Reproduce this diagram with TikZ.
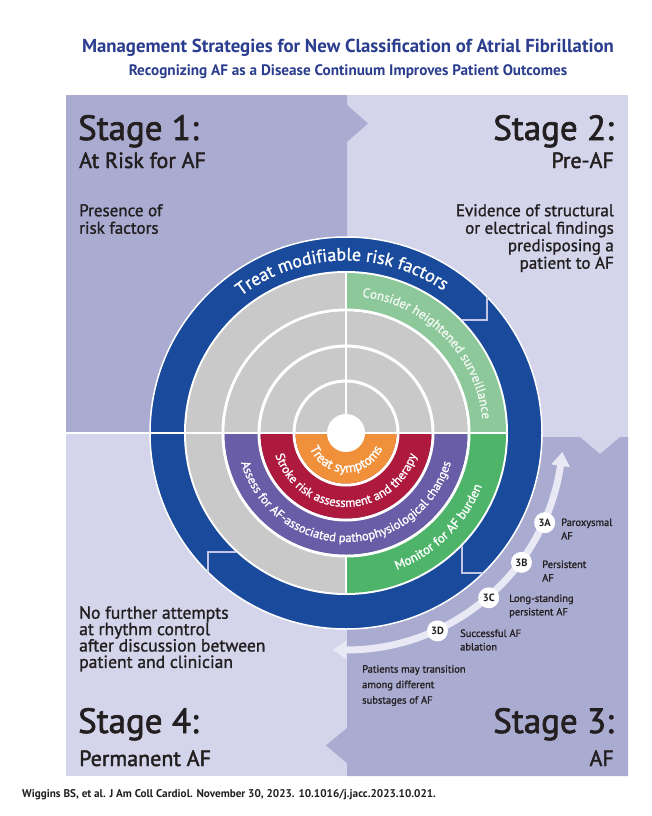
\documentclass[tikz,border=0pt]{standalone}
\usepackage{fontspec}
\setmainfont{PT Sans}
\newfontfamily\medfont{PT Sans}[FakeBold=1.2]
\newfontfamily\headfont{PT Sans}[FakeBold=2]
\usetikzlibrary{decorations.text,arrows.meta,bending,calc}
\definecolor{ringblue}{HTML}{1A4A9B}
\definecolor{ringgray}{HTML}{C9C9C9}
\definecolor{palegreen}{HTML}{8DC89B}
\definecolor{ringgreen}{HTML}{4DB46A}
\definecolor{ringpurple}{HTML}{6A5DA8}
\definecolor{ringred}{HTML}{AE1A3E}
\definecolor{ringorange}{HTML}{F0903A}
\definecolor{lavdark}{HTML}{A9ABD1}
\definecolor{lavlight}{HTML}{D4D5EB}
\definecolor{titleblue}{HTML}{2B3D8E}
\definecolor{inktext}{HTML}{231F20}
\definecolor{arrowpale}{HTML}{E9E9F5}
\definecolor{steplinecol}{HTML}{C3C6E3}
\definecolor{survtext}{HTML}{F2F8F2}
\tikzset{
  bodytext/.style={text=inktext, inner sep=0pt, font=\medfont\fontsize{17}{17.5}\selectfont},
  bodytextlow/.style={text=inktext, inner sep=0pt, font=\medfont\fontsize{17.6}{16.4}\selectfont},
  stagehead/.style={text=inktext, inner sep=0pt, font=\headfont\fontsize{35}{36}\selectfont},
  stagesub/.style={text=inktext, inner sep=0pt, font=\headfont\fontsize{22}{24}\selectfont},
  smalltext/.style={text=inktext, inner sep=0pt, align=left, font=\medfont\fontsize{10.5}{13.5}\selectfont},
  transtext/.style={text=inktext, inner sep=0pt, align=left, font=\medfont\fontsize{10.5}{15.5}\selectfont},
  subcirc/.style={circle, fill=white, inner sep=0pt, minimum size=21pt, text=inktext, font=\bfseries\fontsize{10.5}{11}\selectfont},
  sepline/.style={white, line width=2.5pt},
  ringsep/.style={white, line width=3pt},
  stepmark/.style={steplinecol, line width=1.2pt},
  titletext/.style={text=titleblue, inner sep=0pt, font=\bfseries\fontsize{18.8}{19}\selectfont},
  subtitletext/.style={text=titleblue, inner sep=0pt, font=\bfseries\fontsize{15.2}{16}\selectfont},
  citetext/.style={text=inktext, inner sep=0pt, font=\bfseries\fontsize{11.2}{12}\selectfont},
  substagearrow/.style={arrowpale, line width=7pt, {Triangle[length=14pt,width=18pt,bend]}-{Triangle[length=14pt,width=18pt,bend]}}
}
\begin{document}
\begin{tikzpicture}[x=1pt,y=-1pt]
\useasboundingbox (0,0) rectangle (652,816);
\fill[white] (0,0) rectangle (652,816);
% title
\node[titletext] (title) at (348,48) {Management Strategies for New Classification of Atrial Fibrillation};
\node[subtitletext] (subtitle) at (348,72) {Recognizing AF as a Disease Continuum Improves Patient Outcomes};
% backgrounds
\fill[lavlight] (66,95) rectangle (628,776);
\fill[lavdark] (66,95) -- (347,95) -- (347,105) -- (368,123.5) -- (347,142) -- (347,433) -- (66,433) -- cycle;
\fill[lavdark] (347,437) -- (580,437) -- (600,454) -- (620,437) -- (628,437) -- (628,776) -- (347,776) -- (347,763) -- (326,745.5) -- (347,728) -- cycle;
% circle
\coordinate (c) at (346,433);
\fill[ringblue] (c) circle (196);
\draw[white, line width=1.5pt] (c) circle (196);
\fill[white] (c) circle (162);
\fill[ringgray] (c) -- ($(c)+(-90:160)$) arc(-90:-180:160) -- cycle;
\fill[palegreen] (c) -- ($(c)+(0:160)$) arc(0:-90:160) -- cycle;
\fill[ringgray] (c) -- ($(c)+(180:160)$) arc(180:90:160) -- cycle;
\fill[ringgreen] (c) -- ($(c)+(90:160)$) arc(90:0:160) -- cycle;
\draw[ringsep] (c) circle (123);
\fill[ringgray] ($(c)+(0:121.5)$) arc(0:-180:121.5) -- cycle;
\fill[ringpurple] ($(c)+(0:121.5)$) arc(0:180:121.5) -- cycle;
\draw[ringsep] (c) circle (87);
\fill[ringred] ($(c)+(0:85.5)$) arc(0:180:85.5) -- cycle;
\draw[ringsep] (c) circle (52);
\fill[ringorange] ($(c)+(0:50.5)$) arc(0:180:50.5) -- cycle;
\fill[white] (c) circle (19);
% white cross lines
\draw[sepline] (66,433) -- (506,433);
\draw[sepline] (346,273) -- (346,433);
\draw[sepline] (346,556) -- (346,593);
% step marks in blue ring
\draw[stepmark] (487,296.9) -- (487,320) -- (462.1,320);
\draw[stepmark] (236.1,552) -- (208,552) -- (208,572.2);
\draw[stepmark] (462,546.1) -- (462,573) -- (483.2,573);
% ring texts
\path[decorate, decoration={text along path, text align=center, text color=white,
  text={|\medfont\fontsize{18}{18}\selectfont|Treat modifiable risk factors}}]
  ($(c)+(-140:172.5)$) arc(-140:-43:172.5);
\path[decorate, decoration={text along path, text align=center, text color=survtext,
  text={|\medfont\fontsize{13}{13}\selectfont|Consider heightened surveillance}}]
  ($(c)+(-89:137)$) arc(-89:0:137);
\path[decorate, decoration={text along path, text align=center, text color=white,
  text={|\medfont\fontsize{13}{13}\selectfont|Monitor for AF burden}}]
  ($(c)+(84:146)$) arc(84:7:146);
\path[decorate, decoration={text along path, text align=center, text color=white,
  text={|\medfont\fontsize{12.5}{12.5}\selectfont|Assess for AF-associated pathophysiological changes}}]
  ($(c)+(179:109)$) arc(179:1:109);
\path[decorate, decoration={text along path, text align=center, text color=white,
  text={|\medfont\fontsize{12.5}{12.5}\selectfont|Stroke risk assessment and therapy}}]
  ($(c)+(178:74)$) arc(178:2:74);
\path[decorate, decoration={text along path, text align=center, text color=white,
  text={|\medfont\fontsize{13.5}{13.5}\selectfont|Treat symptoms}}]
  ($(c)+(175:39.5)$) arc(175:5:39.5);
% substage arrow
\draw[substagearrow] ($(c)+(93.5:217)$) arc(93.5:5:217);
\node[subcirc] (s3a) at ($(c)+(24.3:218)$) {3A};
\node[subcirc] (s3b) at ($(c)+(36.4:218)$) {3B};
\node[subcirc] (s3c) at ($(c)+(49.1:218)$) {3C};
\node[subcirc] (s3d) at ($(c)+(65.2:218)$) {3D};
\node[smalltext, anchor=west] (l3a) at (561,529) {Paroxysmal\\AF};
\node[smalltext, anchor=west] (l3b) at (542,571) {Persistent\\AF};
\node[smalltext, anchor=west] (l3c) at (509,606) {Long-standing\\persistent AF};
\node[smalltext, anchor=west] (l3d) at (460,640) {Successful AF\\ablation};
\node[transtext, anchor=north west] (trans) at (362,665) {Patients may transition\\among different\\substages of AF};
% stage texts
\node[stagehead, anchor=base west] (st1) at (78,140) {Stage 1:};
\node[stagesub, anchor=base west] (st1sub) at (79,168) {At Risk for AF};
\node[bodytext, anchor=north west, align=left] (st1body) at (79,204) {Presence of\\risk factors};
\node[stagehead, anchor=base east] (st2) at (614,140) {Stage 2:};
\node[stagesub, anchor=base east] (st2sub) at (614,168) {Pre-AF};
\node[bodytext, anchor=north east, align=right] (st2body) at (614,204) {Evidence of structural\\or electrical findings\\predisposing a\\patient to AF};
\node[bodytextlow, anchor=north west, align=left] (st4body) at (79,606) {No further attempts\\at rhythm control\\after discussion between\\patient and clinician};
\node[stagehead, anchor=base west] (st4) at (78,733) {Stage 4:};
\node[stagesub, anchor=base west] (st4sub) at (79,766) {Permanent AF};
\node[stagehead, anchor=base east] (st3) at (614,733) {Stage 3:};
\node[stagesub, anchor=base east] (st3sub) at (614,766) {AF};
% citation
\node[citetext, anchor=west] (cite) at (22,795) {Wiggins BS, et al. J Am Coll Cardiol. November 30, 2023. 10.1016/j.jacc.2023.10.021.};
\end{tikzpicture}
\end{document}
